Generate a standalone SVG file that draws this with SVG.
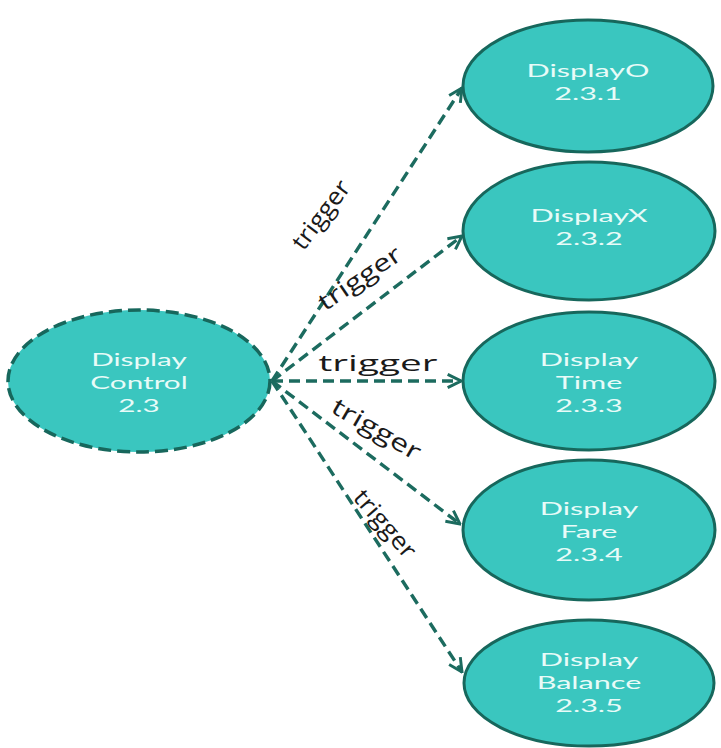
<svg xmlns="http://www.w3.org/2000/svg" width="721" height="748" viewBox="0 0 721 748">
<defs>
<style>
.node{fill:#3AC6BF;stroke:#17675C;stroke-width:3}
.hub{fill:#3AC6BF;stroke:#17675C;stroke-width:3.5;stroke-dasharray:13 6}
.nt{font-family:Lato,"Open Sans",sans-serif;font-size:18px;fill:#E8FBF8;text-anchor:middle}
.edge{fill:none;stroke:#1C6B5F;stroke-width:3.4;stroke-dasharray:11 6}
.lbl{font-family:"Open Sans","Noto Sans",sans-serif;font-size:21px;fill:#1a1a1a;text-anchor:middle;dominant-baseline:central}
.rl{font-size:24px}
</style>
<marker id="arr" viewBox="0 0 12 12" refX="11" refY="6" markerWidth="16" markerHeight="16" markerUnits="userSpaceOnUse" orient="auto">
<path d="M1,1 L11,6 L1,11" fill="none" stroke="#1C6B5F" stroke-width="2.2"/>
</marker>
</defs>
<rect width="721" height="748" fill="#ffffff"/>
<g id="connectors">
<line class="edge" x1="272" y1="381" x2="462" y2="88" marker-end="url(#arr)"/>
<line class="edge" x1="272" y1="381" x2="462" y2="236" marker-end="url(#arr)"/>
<line class="edge" x1="272" y1="381" x2="461" y2="381" marker-end="url(#arr)"/>
<line class="edge" x1="272" y1="381" x2="460" y2="524" marker-end="url(#arr)"/>
<line class="edge" x1="272" y1="381" x2="462" y2="672" marker-end="url(#arr)"/>
<text class="lbl rl" transform="translate(320,214) rotate(-53)" textLength="80" lengthAdjust="spacingAndGlyphs">trigger</text>
<text class="lbl rl" transform="translate(359,277) rotate(-34)" textLength="95" lengthAdjust="spacingAndGlyphs">trigger</text>
<text class="lbl" x="378" y="363" textLength="119" lengthAdjust="spacingAndGlyphs">trigger</text>
<text class="lbl rl" transform="translate(377,428) rotate(30)" textLength="99" lengthAdjust="spacingAndGlyphs">trigger</text>
<text class="lbl rl" transform="translate(386,523) rotate(49)" textLength="82" lengthAdjust="spacingAndGlyphs">trigger</text>
</g>
<g id="hub">
<ellipse class="hub" cx="139" cy="381" rx="131" ry="71"/>
<g transform="translate(139,0) scale(1.65,1)"><text class="nt" x="0" y="366">Display</text><text class="nt" x="0" y="389">Control</text><text class="nt" x="0" y="412">2.3</text></g>
</g>
<g id="n231">
<ellipse class="node" cx="588" cy="86" rx="125" ry="66"/>
<g transform="translate(588,0) scale(1.7,1)"><text class="nt" x="0" y="77">DisplayO</text><text class="nt" x="0" y="100">2.3.1</text></g>
</g>
<g id="n232">
<ellipse class="node" cx="589" cy="231" rx="126" ry="69"/>
<g transform="translate(589,0) scale(1.7,1)"><text class="nt" x="0" y="222">DisplayX</text><text class="nt" x="0" y="245">2.3.2</text></g>
</g>
<g id="n233">
<ellipse class="node" cx="589" cy="381" rx="126" ry="69"/>
<g transform="translate(589,0) scale(1.7,1)"><text class="nt" x="0" y="366">Display</text><text class="nt" x="0" y="389">Time</text><text class="nt" x="0" y="412">2.3.3</text></g>
</g>
<g id="n234">
<ellipse class="node" cx="589" cy="530" rx="126" ry="70"/>
<g transform="translate(589,0) scale(1.7,1)"><text class="nt" x="0" y="515">Display</text><text class="nt" x="0" y="538">Fare</text><text class="nt" x="0" y="561">2.3.4</text></g>
</g>
<g id="n235">
<ellipse class="node" cx="589" cy="683" rx="125" ry="63"/>
<g transform="translate(589,0) scale(1.7,1)"><text class="nt" x="0" y="666">Display</text><text class="nt" x="0" y="689">Balance</text><text class="nt" x="0" y="712">2.3.5</text></g>
</g>
</svg>
